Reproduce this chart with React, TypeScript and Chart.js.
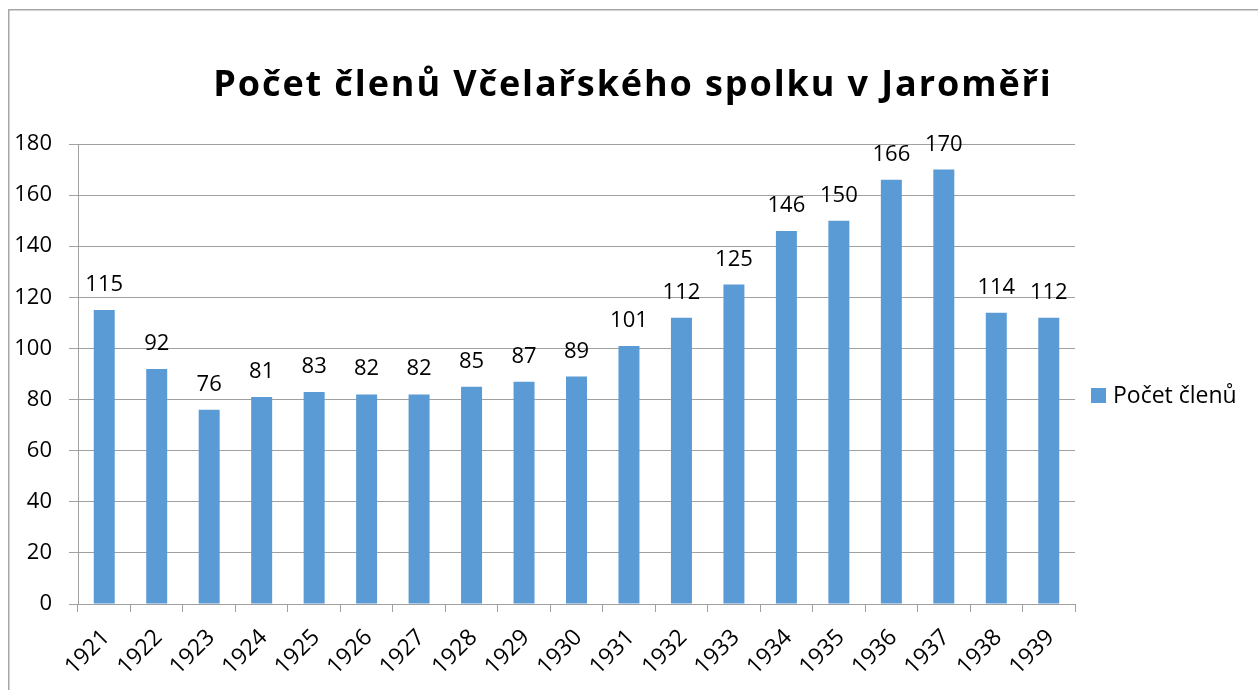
import React, { useEffect, useRef } from "react";
import { Chart, registerables } from "chart.js";

Chart.register(...registerables);

const chartTitle = "Počet členů Včelařského spolku v Jaroměři";
const seriesLabel = "Počet členů";
const years = ["1921", "1922", "1923", "1924", "1925", "1926", "1927", "1928", "1929", "1930", "1931", "1932", "1933", "1934", "1935", "1936", "1937", "1938", "1939"];
const members = [115, 92, 76, 81, 83, 82, 82, 85, 87, 89, 101, 112, 125, 146, 150, 166, 170, 114, 112];
const yMin = 0;
const yMax = 180;
const yStep = 20;

const FONT = "'Open Sans', Lato, sans-serif";
const BAR = "#5B9BD5";
const GRID = "#a0a0a0";

const decorPlugin = {
  id: "decor",
  beforeDraw(chart: any) {
    const ctx = chart.ctx;
    ctx.save();
    ctx.fillStyle = "#ffffff";
    ctx.fillRect(0, 0, chart.width, chart.height);
    ctx.strokeStyle = "#a6a6a6";
    ctx.lineWidth = 1.5;
    ctx.strokeRect(8.75, 9.75, 1400, 1000);
    ctx.restore();
  },
  afterDraw(chart: any) {
    const ctx = chart.ctx;
    ctx.save();
    // title
    ctx.fillStyle = "#000000";
    ctx.font = `bold 36px ${FONT}`;
    ctx.textAlign = "center";
    ctx.textBaseline = "alphabetic";
    try { (ctx as any).letterSpacing = "1.9px"; } catch (e) {}
    ctx.fillText(chartTitle, 633, 96);
    try { (ctx as any).letterSpacing = "0px"; } catch (e) {}
    // legend
    ctx.fillStyle = BAR;
    ctx.fillRect(1091, 388, 15, 15);
    ctx.fillStyle = "#000000";
    ctx.font = `23px ${FONT}`;
    ctx.textAlign = "left";
    ctx.fillText(chart.data.datasets[0].label, 1113, 403);
    // data labels
    ctx.font = `22px ${FONT}`;
    const meta = chart.getDatasetMeta(0);
    ctx.textAlign = "center";
    meta.data.forEach((el: any, i: number) => {
      ctx.fillText(String(chart.data.datasets[0].data[i]), el.x, el.y - 19);
    });
    ctx.restore();
  },
};

export default function App() {
  const ref = useRef<HTMLCanvasElement>(null);
  useEffect(() => {
    if (!ref.current) return;
    const chart = new Chart(ref.current, {
      type: "bar",
      data: {
        labels: years,
        datasets: [
          {
            label: seriesLabel,
            data: members,
            backgroundColor: BAR,
            barPercentage: 0.4,
            categoryPercentage: 1,
          },
        ],
      },
      options: {
        animation: false,
        responsive: false,
        devicePixelRatio: 1,
        layout: { padding: { left: 0, right: 183, top: 144, bottom: 0 } },
        plugins: {
          legend: { display: false },
          title: { display: false },
          tooltip: { enabled: false },
        },
        scales: {
          x: {
            offset: true,
            grid: {
              offset: true,
              drawOnChartArea: false,
              drawTicks: true,
              tickLength: 8,
              color: GRID,
            },
            border: { display: true, color: GRID },
            ticks: {
              minRotation: 45,
              maxRotation: 45,
              padding: 12,
              labelOffset: 2,
              color: "#000000",
              font: { family: FONT, size: 23 },
            },
            afterFit(scale: any) {
              scale.height = 86;
            },
          },
          y: {
            min: yMin,
            max: yMax,
            grid: { color: GRID, tickLength: 9, drawTicks: true },
            border: { display: true, color: GRID },
            ticks: {
              stepSize: yStep,
              padding: 17,
              color: "#000000",
              font: { family: FONT, size: 22 },
            },
            afterFit(scale: any) {
              scale.width = 78;
            },
          },
        },
      },
      plugins: [decorPlugin],
    });
    return () => chart.destroy();
  }, []);
  return (
    <div style={{ position: "fixed", left: 0, top: 0, width: 1258, height: 690, background: "#fff" }}>
      <canvas ref={ref} width={1258} height={690} style={{ display: "block" }} />
    </div>
  );
}
